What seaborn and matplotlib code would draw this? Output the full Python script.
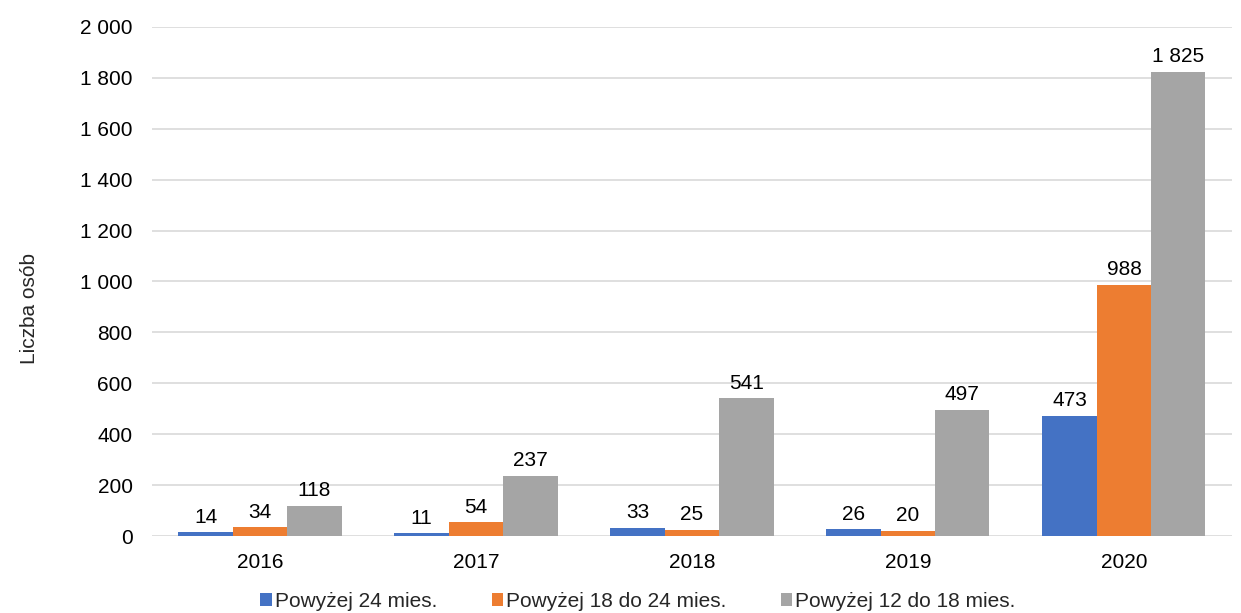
import matplotlib
matplotlib.use("Agg")
import matplotlib.pyplot as plt
import matplotlib.ticker as mticker
import seaborn as sns
import pandas as pd

years = ["2016", "2017", "2018", "2019", "2020"]
series_names = ["Powyżej 24 mies.", "Powyżej 18 do 24 mies.", "Powyżej 12 do 18 mies."]
over_24 = [14, 11, 33, 26, 473]
over_18_24 = [34, 54, 25, 20, 988]
over_12_18 = [118, 237, 541, 497, 1825]
y_ticks = [0, 200, 400, 600, 800, 1000, 1200, 1400, 1600, 1800, 2000]
colors = ["#4472C4", "#ED7D31", "#A5A5A5"]

rows = []
for name, vals in zip(series_names, [over_24, over_18_24, over_12_18]):
    for y, v in zip(years, vals):
        rows.append({"rok": y, "seria": name, "wartosc": v})
df = pd.DataFrame(rows)

sns.set_theme(style="white")
plt.rcParams["font.family"] = ["Liberation Sans", "DejaVu Sans"]

FS = 15

def fmt(v):
    return f"{int(v):,}".replace(",", " ")

fig = plt.figure(figsize=(12.41, 6.13), dpi=100)
ax = fig.add_axes([0.1225, 0.1256, 0.8702, 0.8304])

sns.barplot(data=df, x="rok", y="wartosc", hue="seria", hue_order=series_names,
            order=years, palette=colors, width=0.755, saturation=1,
            edgecolor="none", linewidth=0, ax=ax, zorder=3)

ax.set_ylim(0, 2000)
ax.set_yticks(y_ticks)
ax.yaxis.set_major_formatter(mticker.FuncFormatter(lambda v, p: fmt(v)))
ax.grid(axis="y", color="#d9d9d9", linewidth=1.2, zorder=0)
ax.grid(axis="x", visible=False)
for s in ax.spines.values():
    s.set_visible(False)
ax.tick_params(axis="both", length=0, labelsize=FS, colors="#000000")
ax.tick_params(axis="y", pad=14)
ax.tick_params(axis="x", pad=12)
ax.set_xlabel("")
ax.set_ylabel("Liczba osób", fontsize=FS)
ax.yaxis.set_label_coords(-0.105, 0.446)

for cont in ax.containers:
    ax.bar_label(cont, labels=[fmt(v) for v in cont.datavalues], fontsize=FS,
                 padding=4, color="#000000")

handles, labels = ax.get_legend_handles_labels()
ax.legend(handles, labels, loc="center", bbox_to_anchor=(0.45, -0.128),
          ncol=3, frameon=False, fontsize=FS, handlelength=0.55, handleheight=0.55,
          handletextpad=0.15, columnspacing=2.6, borderaxespad=0)

fig.savefig("out.png", dpi=100)
